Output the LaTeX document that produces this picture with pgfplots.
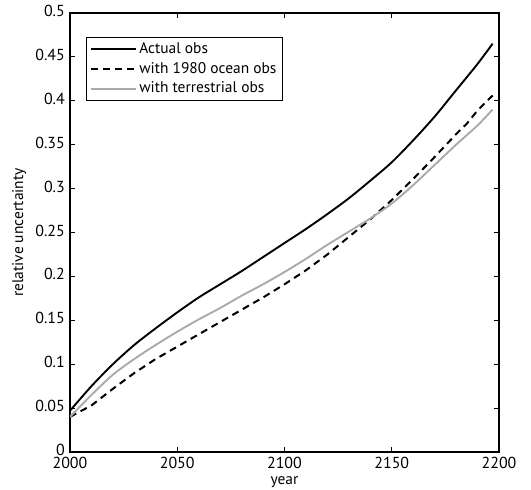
\documentclass[border=0pt]{standalone}
\usepackage{fontspec}
\setmainfont{PT Sans}
\usepackage{pgfplots}
\pgfplotsset{compat=1.18}

\begin{document}
\begin{tikzpicture}
\fontsize{15}{17}\selectfont
\begin{axis}[
    scale only axis,
    width=429bp, height=439bp,
    xmin=2000, xmax=2200,
    ymin=0, ymax=0.5,
    xtick={2000,2050,...,2200},
    ytick={0,0.05,...,0.5},
    scaled ticks=false,
    xticklabel style={/pgf/number format/1000 sep={}, yshift=0bp},
    yticklabel style={/pgf/number format/fixed, /pgf/number format/precision=2, yshift=2bp},
    /pgf/number format/assume math mode=true,
    tick label style={font=\fontsize{16}{18}\selectfont},
    label style={font=\fontsize{15.5}{18}\selectfont},
    tick align=inside,
    major tick length=5bp,
    tick style={black, line width=0.9bp},
    axis line style={line width=1.3bp},
    xlabel={year},
    ylabel={relative uncertainty},
    xlabel style={yshift=2bp},
    ylabel style={yshift=-1bp},
    legend cell align=left,
    legend style={at={(0.037,0.945)}, anchor=north west, draw=black,
        line width=0.9bp, inner xsep=4bp, inner ysep=3bp,
        font=\fontsize{15.5}{17}\selectfont, row sep=2.5bp},
    legend image code/.code={\draw[#1] (0bp,0bp) -- (45bp,0bp);},
]
\addplot[black, line width=1.9bp, smooth] coordinates {
    (2000,0.047) (2010,0.075) (2020,0.100) (2030,0.122) (2040,0.141)
    (2050,0.159) (2060,0.176) (2070,0.191) (2080,0.206) (2090,0.222)
    (2100,0.238) (2110,0.254) (2120,0.271) (2130,0.289) (2140,0.309)
    (2150,0.330) (2160,0.355) (2170,0.382) (2180,0.412) (2190,0.442)
    (2197,0.465)
};
\addlegendentry{Actual obs}
\addplot[black, line width=2bp, dash pattern=on 7bp off 5bp] coordinates {
    (2000,0.040) (2010,0.053) (2020,0.072) (2030,0.090) (2040,0.106)
    (2050,0.120) (2060,0.134) (2070,0.148) (2080,0.162) (2090,0.176)
    (2100,0.191) (2110,0.207) (2120,0.225) (2130,0.245) (2140,0.265)
    (2150,0.287) (2160,0.311) (2170,0.336) (2180,0.362) (2185,0.374)
    (2190,0.389) (2197,0.406)
};
\addlegendentry{with 1980 ocean obs}
\addplot[color={rgb,255:red,170;green,170;blue,170}, line width=1.9bp, smooth] coordinates {
    (2000,0.040) (2010,0.065) (2020,0.088) (2030,0.106) (2040,0.122)
    (2050,0.137) (2060,0.151) (2070,0.164) (2080,0.178) (2090,0.191)
    (2100,0.205) (2110,0.220) (2120,0.236) (2130,0.251) (2140,0.266)
    (2150,0.283) (2160,0.304) (2170,0.327) (2180,0.350) (2190,0.372)
    (2197,0.390)
};
\addlegendentry{with terrestrial obs}
\end{axis}
\pgfresetboundingbox
\path (-70bp,-38bp) rectangle (461bp,452bp);
\end{tikzpicture}
\end{document}
